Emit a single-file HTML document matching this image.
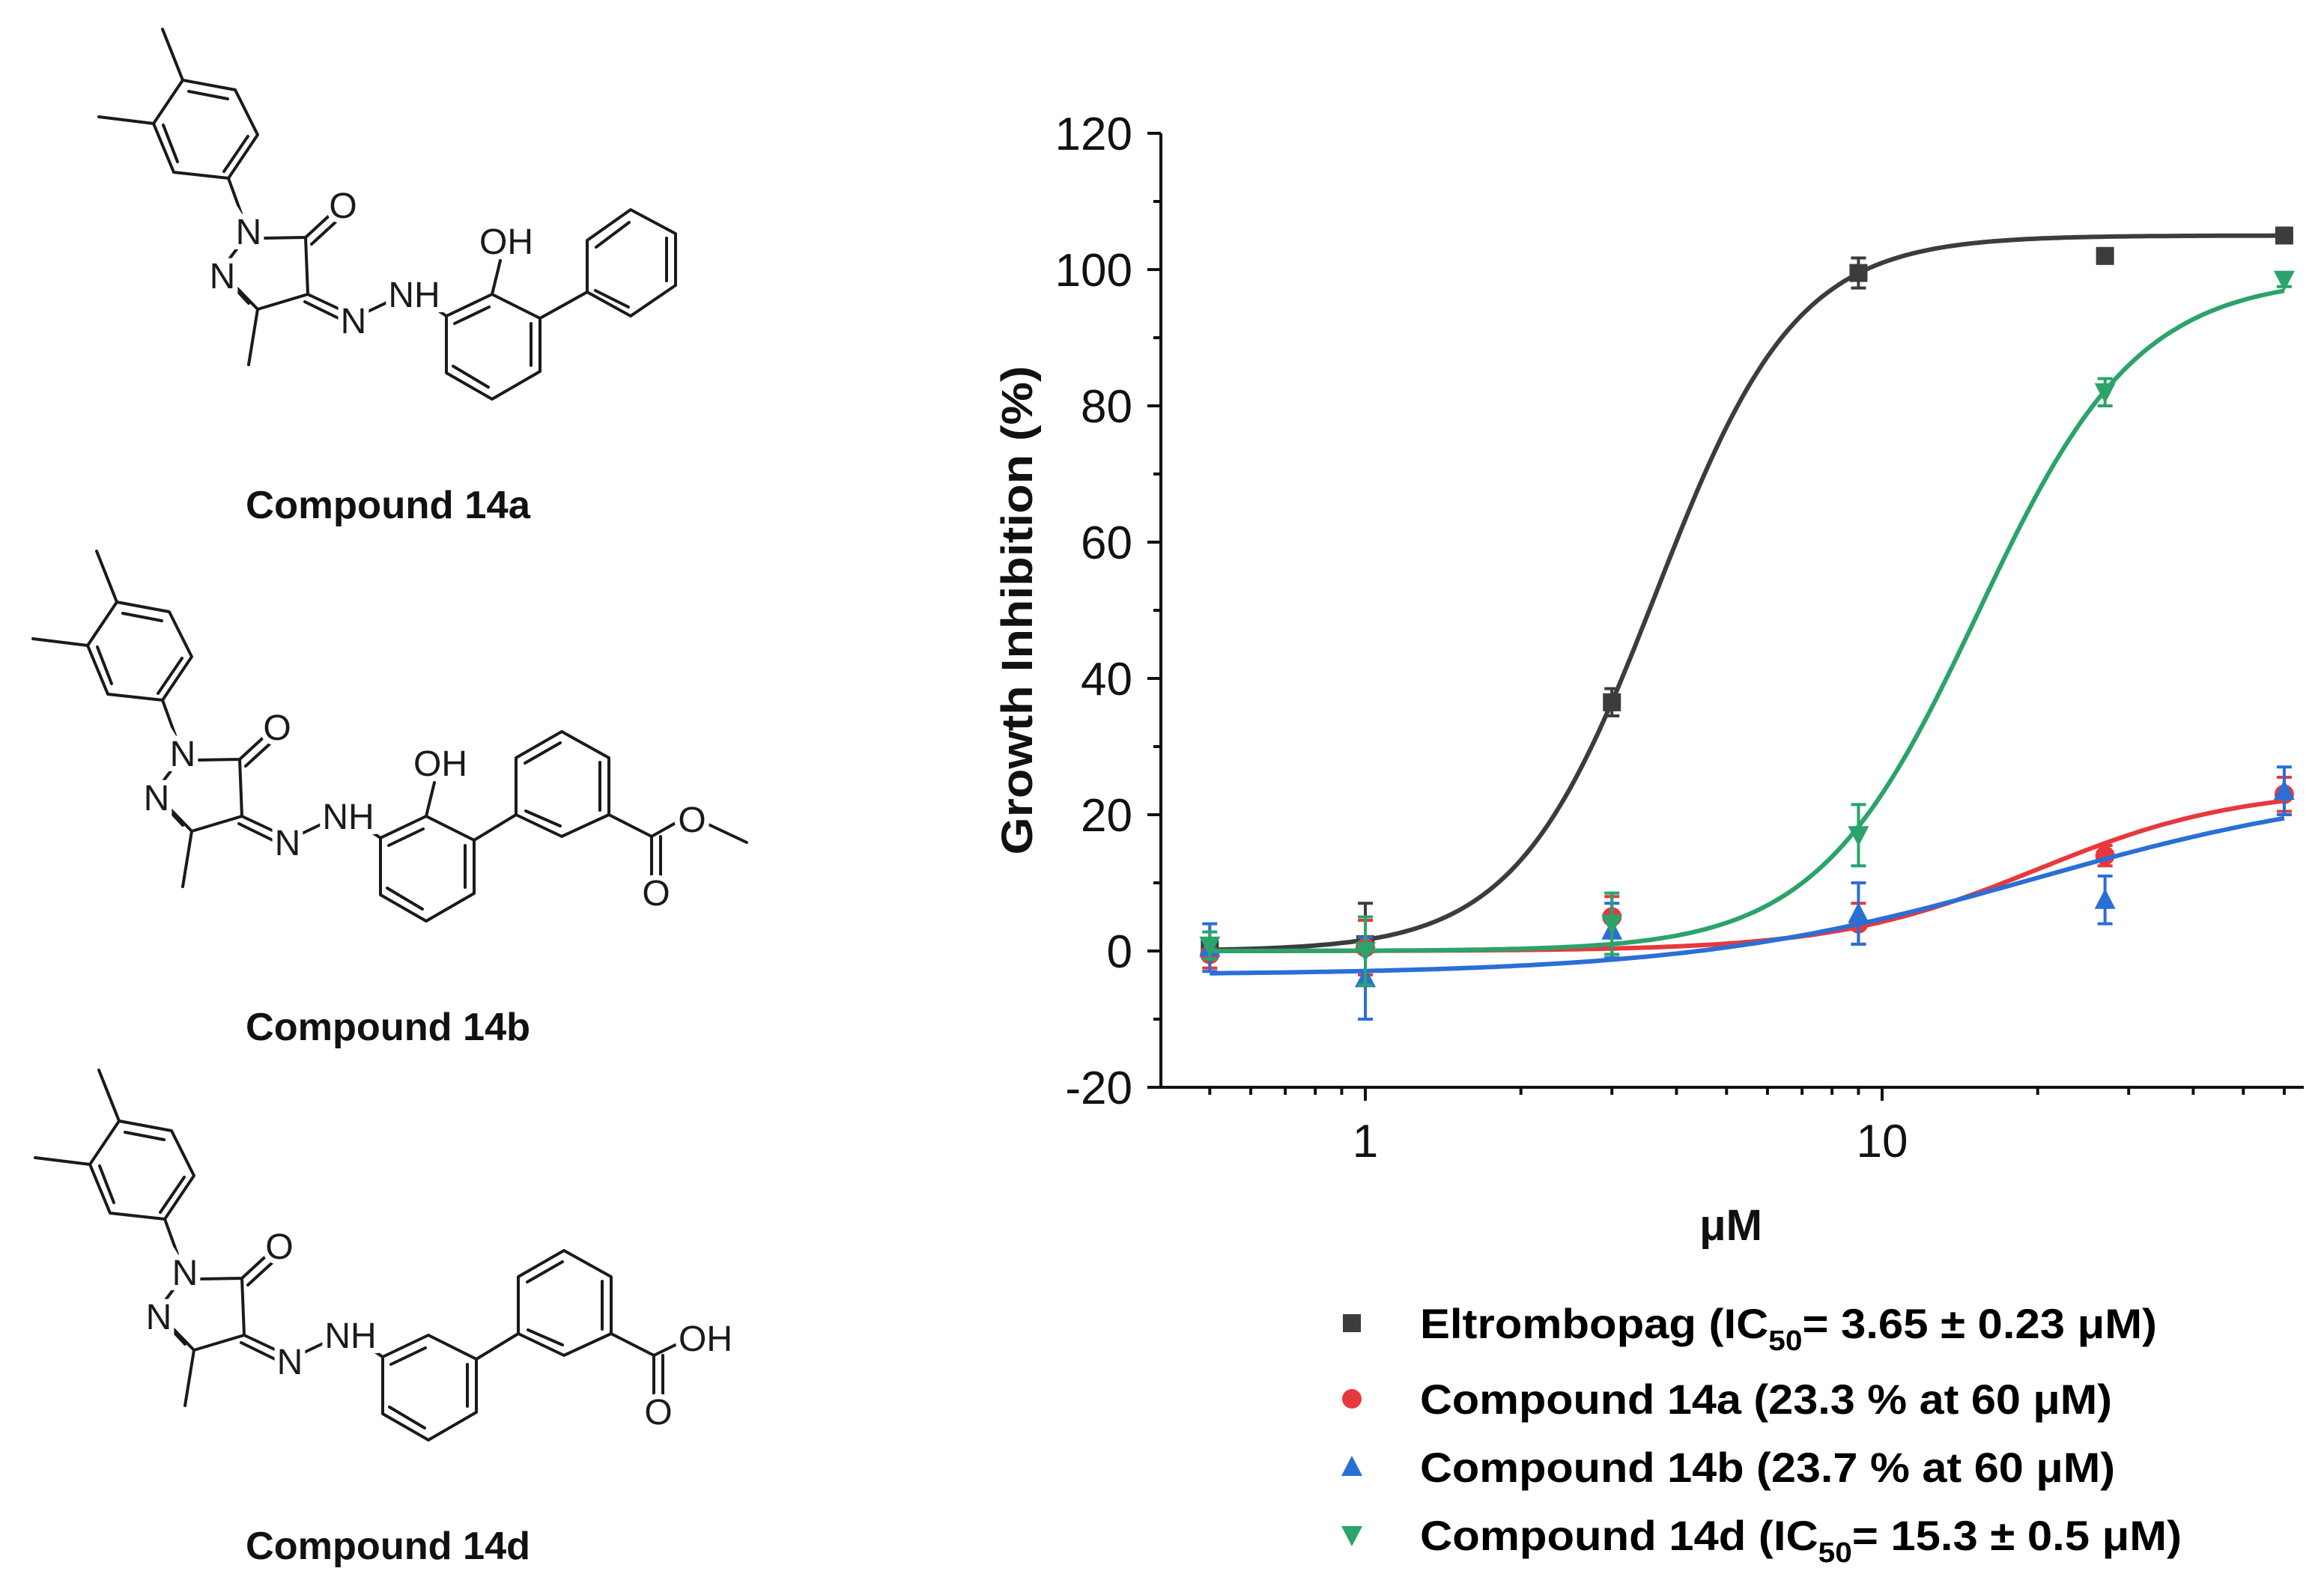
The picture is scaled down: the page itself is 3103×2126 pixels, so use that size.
<!DOCTYPE html>
<html><head><meta charset="utf-8"><style>
html,body{margin:0;padding:0;background:#fff}
svg{display:block}
.b{stroke:#1a1a1a;stroke-width:4;fill:none;stroke-linecap:round;stroke-linejoin:round}
.lbl{font-family:"Liberation Sans",sans-serif;font-size:48px;fill:#1a1a1a;text-anchor:middle;paint-order:stroke;stroke:#fff;stroke-width:14px}
.cap{font-family:"Liberation Sans",sans-serif;font-weight:bold;font-size:52px;fill:#111;text-anchor:middle}
</style></head><body>
<svg id="fig" width="3103" height="2126" viewBox="0 0 3103 2126" xmlns="http://www.w3.org/2000/svg">
<rect width="3103" height="2126" fill="#fff"/>
<g>
<path class="b" d="M244 107 L314 120 L344 180 L305 238 L232 230 L205 165 Z M252 122 L304 132 M331 182 L299 229 M237 216 L218 167 M244 107 L217 39 M205 165 L132 156 M305 238 L322 285 M352 318 L408 317 L411 393 L344 413 L312 380 M332 405 L306 377 M303 350 L318 330 M408 317 L446 282 M416 326 L452 293 M344 413 L332 487 M411 393 L458 415 M407 403 L452 425 M487 418 L525 400 M578 410 L596 422 M596 422 L657 393 L721 425 L721 496 L657 533 L596 498 Z M607 432 L653 410 M709 432 L709 488 M605 489 L652 517 M657 393 L668 348 M721 425 L784 390 M784 390 L784 321 L842 280 L902 312 L902 381 L842 422 Z M796 330 L840 297 M890 318 L890 375 M795 388 L839 410"/>
<text class="lbl" x="332" y="326">N</text>
<text class="lbl" x="297" y="385">N</text>
<text class="lbl" x="458" y="291">O</text>
<text class="lbl" x="472" y="445">N</text>
<text class="lbl" x="553" y="410">NH</text>
<text class="lbl" x="676" y="339">OH</text>
<text class="cap" x="518" y="692" textLength="380" lengthAdjust="spacingAndGlyphs">Compound 14a</text>
</g>
<g transform="translate(-88,697)">
<path class="b" d="M244 107 L314 120 L344 180 L305 238 L232 230 L205 165 Z M252 122 L304 132 M331 182 L299 229 M237 216 L218 167 M244 107 L217 39 M205 165 L132 156 M305 238 L322 285 M352 318 L408 317 L411 393 L344 413 L312 380 M332 405 L306 377 M303 350 L318 330 M408 317 L446 282 M416 326 L452 293 M344 413 L332 487 M411 393 L458 415 M407 403 L452 425 M487 418 L525 400 M578 410 L596 422 M596 422 L657 393 L721 425 L721 496 L657 533 L596 498 Z M607 432 L653 410 M709 432 L709 488 M605 489 L652 517 M657 393 L668 348 M721 425 L777 391 M777 391 L777 315 L838 280 L901 315 L901 391 L838 420 Z M789 322 L836 295 M889 321 L889 385 M790 386 L836 406 M901 391 L958 420 L990 402 M958 420 L958 472 M970 420 L970 472 M1034 404 L1085 428"/>
<text class="lbl" x="332" y="326">N</text>
<text class="lbl" x="297" y="385">N</text>
<text class="lbl" x="458" y="291">O</text>
<text class="lbl" x="472" y="445">N</text>
<text class="lbl" x="553" y="410">NH</text>
<text class="lbl" x="676" y="339">OH</text>
<text class="lbl" x="964" y="512">O</text>
<text class="lbl" x="1012" y="414">O</text>
<text class="cap" x="606" y="692" textLength="380" lengthAdjust="spacingAndGlyphs">Compound 14b</text>
</g>
<g transform="translate(-85,1390)">
<path class="b" d="M244 107 L314 120 L344 180 L305 238 L232 230 L205 165 Z M252 122 L304 132 M331 182 L299 229 M237 216 L218 167 M244 107 L217 39 M205 165 L132 156 M305 238 L322 285 M352 318 L408 317 L411 393 L344 413 L312 380 M332 405 L306 377 M303 350 L318 330 M408 317 L446 282 M416 326 L452 293 M344 413 L332 487 M411 393 L458 415 M407 403 L452 425 M487 418 L525 400 M578 410 L596 422 M596 422 L657 393 L721 425 L721 496 L657 533 L596 498 Z M607 432 L653 410 M709 432 L709 488 M605 489 L652 517 M721 425 L777 391 M777 391 L777 315 L838 280 L901 315 L901 391 L838 420 Z M789 322 L836 295 M889 321 L889 385 M790 386 L836 406 M901 391 L958 420 L995 402 M958 420 L958 472 M970 420 L970 472"/>
<text class="lbl" x="332" y="326">N</text>
<text class="lbl" x="297" y="385">N</text>
<text class="lbl" x="458" y="291">O</text>
<text class="lbl" x="472" y="445">N</text>
<text class="lbl" x="553" y="410">NH</text>
<text class="lbl" x="964" y="512">O</text>
<text class="lbl" x="1027" y="414">OH</text>
<text class="cap" x="603" y="692" textLength="380" lengthAdjust="spacingAndGlyphs">Compound 14d</text>
</g>
<g id="chart"></g>
</svg>
<script>
const doses = [0.5, 1, 3, 9, 27, 60];
const eltroVals = [0.3, 1, 36.5, 99.5, 102, 105];
const eltroErr = [1, 6, 2, 2.2, 1, 0.8];
const c14aVals = [-0.5, 0.5, 5, 4, 14, 23];
const c14aErr = [2, 4, 3, 3, 1.5, 2.5];
const c14bVals = [0.5, -4, 3, 5.5, 7.5, 23.5];
const c14bErr = [3.5, 6, 4, 4.5, 3.5, 3.5];
const c14dVals = [0.8, 0, 4, 17, 82, 98.5];
const c14dErr = [2, 5, 4.5, 4.5, 2, 1];
const yTicks = [-20, 0, 20, 40, 60, 80, 100, 120];
const xTicks = [1, 10];
const eltroFit = [0, 105, 3.65, 3.2];
const c14aFit = [0, 24, 20, 2.2];
const c14bFit = [-3.5, 25, 20, 1.3];
const c14dFit = [0, 99, 15.3, 2.8];

const NS = 'http://www.w3.org/2000/svg';
const g = document.getElementById('chart');
const X0 = 1550, X1 = 3076, Y0 = 178, Y1 = 1452;
const xs = v => 1823 + 690 * Math.log10(v);
const ys = v => 1452 - (v + 20) * (1274 / 140);
function mk(tag, attrs, parent) {
  const e = document.createElementNS(NS, tag);
  for (const k in attrs) e.setAttribute(k, attrs[k]);
  (parent || g).appendChild(e);
  return e;
}
const yAxis = mk('line', {x1: X0, y1: Y0, x2: X0, y2: Y1, stroke: '#111', 'stroke-width': 4});


const xAxis = mk('line', {x1: X0 - 2, y1: Y1, x2: X1, y2: Y1, stroke: '#111', 'stroke-width': 4});


for (let v = -20; v <= 120; v += 10) {
  const major = yTicks.includes(v);
  const t = mk('line', {x1: X0 - (major ? 18 : 10), y1: ys(v), x2: X0, y2: ys(v), stroke: '#111', 'stroke-width': 4});
  
  
}
yTicks.forEach(v => {
  const t = mk('text', {x: 1512, y: ys(v) + 22, 'text-anchor': 'end', 'font-family': 'Liberation Sans, sans-serif', 'font-size': 62, fill: '#111'});
  t.textContent = v;
  
  
});
for (let d = 0.1; d <= 100; d *= 10) {
  for (let m = 1; m <= 9; m++) {
    const v = d * m;
    const px = xs(v);
    if (px < X0 || px > X1) continue;
    const major = m === 1;
    const t = mk('line', {x1: px, y1: Y1, x2: px, y2: Y1 + (major ? 18 : 10), stroke: '#111', 'stroke-width': 4});
    
    
  }
}
xTicks.forEach(v => {
  const t = mk('text', {x: xs(v), y: 1545, 'text-anchor': 'middle', 'font-family': 'Liberation Sans, sans-serif', 'font-size': 62, fill: '#111'});
  t.textContent = v;
  
  
});
const yt = mk('text', {x: 0, y: 0, transform: 'translate(1378,815) rotate(-90)', 'text-anchor': 'middle', 'font-family': 'Liberation Sans, sans-serif', 'font-weight': 'bold', 'font-size': 58, fill: '#111', textLength: 653, lengthAdjust: 'spacingAndGlyphs'});
yt.textContent = 'Growth Inhibition (%)';


const xt = mk('text', {x: 2311, y: 1656, 'text-anchor': 'middle', 'font-family': 'Liberation Sans, sans-serif', 'font-weight': 'bold', 'font-size': 58, fill: '#111'});
xt.textContent = 'μM';



function logistic(p, x) { return p[0] + (p[1] - p[0]) / (1 + Math.pow(p[2] / x, p[3])); }
function marker(shape, cx, cy, color, parent) {
  const s = 12;
  let e;
  if (shape === 'square') e = mk('rect', {x: cx - s, y: cy - s, width: 2 * s, height: 2 * s, fill: color}, parent);
  else if (shape === 'circle') e = mk('circle', {cx: cx, cy: cy, r: s + 1, fill: color}, parent);
  else if (shape === 'up') e = mk('polygon', {points: `${cx},${cy - s - 3} ${cx + s + 2},${cy + s} ${cx - s - 2},${cy + s}`, fill: color}, parent);
  else e = mk('polygon', {points: `${cx},${cy + s + 3} ${cx + s + 2},${cy - s} ${cx - s - 2},${cy - s}`, fill: color}, parent);
  return e;
}
const series = [
  {name: 'eltrombopag', vals: eltroVals, err: eltroErr, fit: eltroFit, color: '#3c3c3c', shape: 'square'},
  {name: 'compound-14a', vals: c14aVals, err: c14aErr, fit: c14aFit, color: '#e8383d', shape: 'circle'},
  {name: 'compound-14b', vals: c14bVals, err: c14bErr, fit: c14bFit, color: '#2a6fd6', shape: 'up'},
  {name: 'compound-14d', vals: c14dVals, err: c14dErr, fit: c14dFit, color: '#2ba36a', shape: 'down'}
];
series.forEach(s => {
  const sg = mk('g', {});
  
  
  let d = '';
  const lo = Math.log10(doses[0]), hi = Math.log10(doses[doses.length - 1]);
  for (let i = 0; i <= 200; i++) {
    const x = Math.pow(10, lo + (hi - lo) * i / 200);
    d += (i ? 'L' : 'M') + xs(x).toFixed(1) + ' ' + ys(logistic(s.fit, x)).toFixed(1);
  }
  const c = mk('path', {d: d, fill: 'none', stroke: s.color, 'stroke-width': 6}, sg);
  
  
  doses.forEach((x, i) => {
    const px = xs(x), v = s.vals[i], e = s.err[i];
    const eb = mk('path', {d: `M${px} ${ys(v + e)} L${px} ${ys(v - e)} M${px - 10} ${ys(v + e)} L${px + 10} ${ys(v + e)} M${px - 10} ${ys(v - e)} L${px + 10} ${ys(v - e)}`, stroke: s.color, 'stroke-width': 4, fill: 'none'}, sg);
    
    
    const m = marker(s.shape, px, ys(v), s.color, sg);
    
    
  });
});
const legendRows = [
  {y: 1767, shape: 'square', color: '#3c3c3c', pre: 'Eltrombopag (IC', sub: '50', post: '= 3.65 ± 0.23 μM)', len: 984, name: 'legend-eltrombopag'},
  {y: 1868, shape: 'circle', color: '#e8383d', pre: 'Compound 14a (23.3 % at 60 μM)', sub: '', post: '', len: 924, name: 'legend-compound-14a'},
  {y: 1959, shape: 'up', color: '#2a6fd6', pre: 'Compound 14b (23.7 % at 60 μM)', sub: '', post: '', len: 928, name: 'legend-compound-14b'},
  {y: 2050, shape: 'down', color: '#2ba36a', pre: 'Compound 14d (IC', sub: '50', post: '= 15.3 ± 0.5 μM)', len: 1017, name: 'legend-compound-14d'}
];
legendRows.forEach(r => {
  const lg = mk('g', {});
  
  
  marker(r.shape, 1805, r.y, r.color, lg);
  const t = mk('text', {x: 1896, y: r.y + 20, 'font-family': 'Liberation Sans, sans-serif', 'font-weight': 'bold', 'font-size': 56, fill: '#000', textLength: r.len, lengthAdjust: 'spacingAndGlyphs'}, lg);
  const a = mk('tspan', {}, t); a.textContent = r.pre;
  if (r.sub) {
    const b = mk('tspan', {'font-size': 38, dy: 16}, t); b.textContent = r.sub;
    const c = mk('tspan', {dy: -16}, t); c.textContent = r.post;
  }
});
</script>
</body></html>
